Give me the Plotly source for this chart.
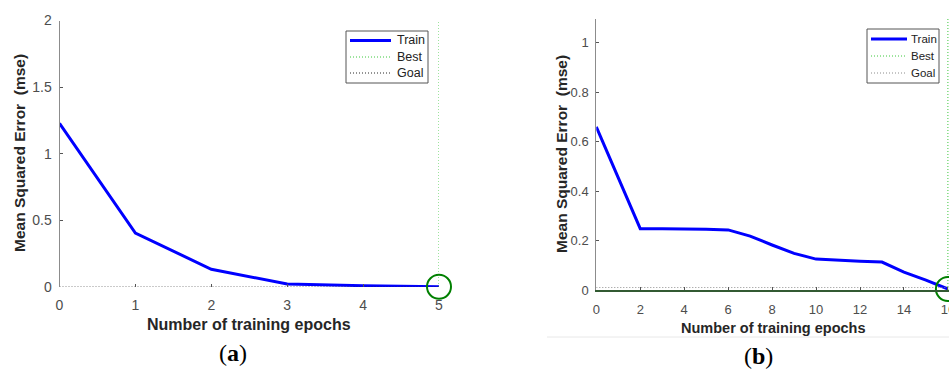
import plotly.graph_objects as go

# ---- data ----
epochs_a = [0, 1, 2, 3, 4, 5]
mse_a = [1.228, 0.405, 0.133, 0.023, 0.010, 0.002]
best_a = 5
goal_a = 0.0
xticks_a = [0, 1, 2, 3, 4, 5]
yticks_a = [0, 0.5, 1, 1.5, 2]
yticklabels_a = ["0", "0.5", "1", "1.5", "2"]

epochs_b = list(range(17))
mse_b = [0.660, 0.455, 0.248, 0.248, 0.248, 0.246, 0.243, 0.218, 0.182, 0.148,
         0.125, 0.119, 0.116, 0.113, 0.072, 0.040, 0.004]
best_b = 16
goal_b = 0.01
xticks_b = [0, 2, 4, 6, 8, 10, 12, 14, 16]
yticks_b = [0, 0.2, 0.4, 0.6, 0.8, 1]
yticklabels_b = ["0", "0.2", "0.4", "0.6", "0.8", "1"]

legend_labels = ["Train", "Best", "Goal"]
x_title = "Number of training epochs"
y_title = "Mean Squared Error\u00a0\u00a0(mse)"
panel_labels = ["(<b>a</b>)", "(<b>b</b>)"]

W, H = 949, 371
FONT = "Liberation Sans, Arial, sans-serif"
TICKC = "#4d4d4d"
TRAIN_C = "rgb(0,0,255)"
BEST_C = "rgb(60,200,60)"
CIRCLE_C = "rgb(0,128,0)"
GOAL_A_C = "rgb(40,40,40)"
GOAL_B_C = "rgb(140,140,140)"
DOT = "1px,2px"

fig = go.Figure()

# ---- panel (a) ----
fig.add_trace(go.Scatter(x=epochs_a, y=mse_a, mode="lines", name=legend_labels[0],
                         line=dict(color=TRAIN_C, width=3), xaxis="x", yaxis="y"))
fig.add_trace(go.Scatter(x=[best_a, best_a], y=[0, yticks_a[-1]], mode="lines", name=legend_labels[1],
                         line=dict(color=BEST_C, width=1, dash=DOT), xaxis="x", yaxis="y"))
fig.add_trace(go.Scatter(x=[epochs_a[0], epochs_a[-1]], y=[goal_a, goal_a], mode="lines",
                         name=legend_labels[2],
                         line=dict(color=GOAL_A_C, width=1, dash=DOT), xaxis="x", yaxis="y"))
fig.add_trace(go.Scatter(x=[best_a], y=[mse_a[best_a]], mode="markers",
                         marker=dict(symbol="circle-open", size=24, color=CIRCLE_C,
                                     line=dict(width=2, color=CIRCLE_C)),
                         xaxis="x", yaxis="y", cliponaxis=False))

# ---- panel (b) ----
fig.add_trace(go.Scatter(x=epochs_b, y=mse_b, mode="lines", name=legend_labels[0],
                         line=dict(color=TRAIN_C, width=3), xaxis="x2", yaxis="y2"))
fig.add_trace(go.Scatter(x=[best_b, best_b], y=[0, 1.1], mode="lines", name=legend_labels[1],
                         line=dict(color=BEST_C, width=1, dash=DOT), xaxis="x2", yaxis="y2"))
fig.add_trace(go.Scatter(x=[epochs_b[0], epochs_b[-1]], y=[goal_b, goal_b], mode="lines",
                         name=legend_labels[2],
                         line=dict(color=GOAL_B_C, width=1, dash=DOT), xaxis="x2", yaxis="y2"))
fig.add_trace(go.Scatter(x=[best_b], y=[mse_b[best_b]], mode="markers",
                         marker=dict(symbol="circle-open", size=24, color=CIRCLE_C,
                                     line=dict(width=2, color=CIRCLE_C)),
                         xaxis="x2", yaxis="y2", cliponaxis=False))

def axis_common(size):
    return dict(showgrid=False, zeroline=False, ticks="inside", ticklen=3, automargin=False,
                tickcolor="#555555", tickfont=dict(family=FONT, size=size, color=TICKC))

fig.update_layout(
    width=W, height=H, margin=dict(l=0, r=0, t=0, b=0, autoexpand=False),
    paper_bgcolor="white", plot_bgcolor="white", showlegend=False,
    xaxis=dict(domain=[59.5 / W, 439 / W], range=[0, 5], tickvals=xticks_a,
               showline=False, anchor="y", ticklabelstandoff=8, **axis_common(14)),
    yaxis=dict(domain=[(H - 287) / H, (H - 20.5) / H], range=[0, 2], tickvals=yticks_a,
               ticktext=yticklabels_a, ticklabelstandoff=4,
               showline=True, linecolor="#8c8c8c", linewidth=1, anchor="x", **axis_common(14)),
    xaxis2=dict(domain=[596.3 / W, 1.0], range=[0, 16.05], tickvals=xticks_b,
                showline=True, linecolor="rgb(50,90,50)", linewidth=1.5, anchor="y2",
                ticklabelstandoff=7, ticklabeloverflow="allow", **axis_common(13)),
    yaxis2=dict(domain=[(H - 290) / H, (H - 19) / H], range=[0, 1.096], tickvals=yticks_b,
                ticktext=yticklabels_b, ticklabelstandoff=4,
                showline=True, linecolor="#8c8c8c", linewidth=1, anchor="x2", **axis_common(13)),
)

ann = []
def lf(size):
    return dict(family=FONT, size=size, color="#262626")
ann.append(dict(text="<b>" + y_title + "</b>", x=19 / W, y=1 - 153 / H, textangle=-90, font=lf(15.5)))
ann.append(dict(text="<b>" + y_title + "</b>", x=561 / W, y=1 - 154 / H, textangle=-90, font=lf(15.5)))
ann.append(dict(text="<b>" + x_title + "</b>", x=249 / W, y=1 - 324 / H, font=lf(16)))
ann.append(dict(text="<b>" + x_title + "</b>", x=773 / W, y=1 - 328 / H, font=lf(14.5)))
serif = dict(family="Liberation Serif, DejaVu Serif, serif", size=24, color="black")
ann.append(dict(text=panel_labels[0], x=233 / W, y=1 - 353 / H, font=serif))
ann.append(dict(text=panel_labels[1], x=758 / W, y=1 - 356 / H, font=serif))
for a in ann:
    a.update(xref="paper", yref="paper", showarrow=False, xanchor="center", yanchor="middle")

shapes = []
# thin separator line under panel (b)
shapes.append(dict(type="line", xref="paper", yref="paper", x0=547 / W, x1=1.0,
                   y0=1 - 337 / H, y1=1 - 337 / H, line=dict(color="#e8e8e8", width=1)))

# MATLAB-style legend boxes (pixel layout)
def add_legend(box, sample_x, text_x, rows, styles, fsize):
    x0, y0, x1, y1 = box
    shapes.append(dict(type="rect", xref="paper", yref="paper",
                       x0=x0 / W, x1=x1 / W, y0=1 - y0 / H, y1=1 - y1 / H,
                       line=dict(color="#555555", width=1), fillcolor="white", layer="above"))
    for label, ry, st in zip(legend_labels, rows, styles):
        shapes.append(dict(type="line", xref="paper", yref="paper", layer="above",
                           x0=sample_x[0] / W, x1=sample_x[1] / W, y0=1 - ry / H, y1=1 - ry / H,
                           line=st))
        ann.append(dict(text=label, xref="paper", yref="paper", showarrow=False,
                        x=text_x / W, y=1 - ry / H, xanchor="left", yanchor="middle",
                        font=dict(family=FONT, size=fsize, color="#222222")))

add_legend((346, 31, 428, 83), (350, 391), 395, (40.5, 57, 73),
           [dict(color=TRAIN_C, width=3), dict(color=BEST_C, width=1, dash=DOT),
            dict(color=GOAL_A_C, width=1, dash=DOT)], 12.5)
add_legend((867, 29, 939, 83), (871, 907), 909, (39, 56, 73),
           [dict(color=TRAIN_C, width=3), dict(color=BEST_C, width=1, dash=DOT),
            dict(color=GOAL_B_C, width=1, dash=DOT)], 11.5)

fig.update_layout(annotations=ann, shapes=shapes)

fig.write_html("out.html")
